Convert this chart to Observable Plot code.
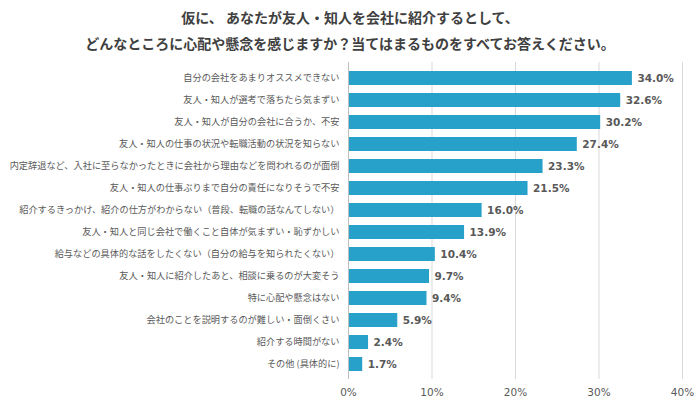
<!DOCTYPE html>
<html><head><meta charset="utf-8">
<script src="https://cdn.jsdelivr.net/npm/d3@7"></script>
<script src="https://cdn.jsdelivr.net/npm/@observablehq/plot@0.6"></script>
<style>
body{margin:0;background:#fff;}
#title{width:700px;text-align:center;font-family:"Noto Sans CJK JP",sans-serif;font-weight:bold;font-size:14px;color:#404040;line-height:26px;padding-top:4px;height:51px;}
#chart svg{font-family:"DejaVu Sans",sans-serif;}
#chart g[aria-label="y-axis tick label"] text{font-family:"Noto Sans CJK JP",sans-serif;font-size:9.2px;}
</style></head>
<body>
<div id="title">仮に、 あなたが友人・知人を会社に紹介するとして、<br>どんなところに心配や懸念を感じますか？当てはまるものをすべてお答えください。</div>
<div id="chart"></div>
<script>
const categories = [
  "自分の会社をあまりオススメできない",
  "友人・知人が選考で落ちたら気まずい",
  "友人・知人が自分の会社に合うか、不安",
  "友人・知人の仕事の状況や転職活動の状況を知らない",
  "内定辞退など、入社に至らなかったときに会社から理由などを問われるのが面倒",
  "友人・知人の仕事ぶりまで自分の責任になりそうで不安",
  "紹介するきっかけ、紹介の仕方がわからない（普段、転職の話なんてしない）",
  "友人・知人と同じ会社で働くこと自体が気まずい・恥ずかしい",
  "給与などの具体的な話をしたくない（自分の給与を知られたくない）",
  "友人・知人に紹介したあと、相談に乗るのが大変そう",
  "特に心配や懸念はない",
  "会社のことを説明するのが難しい・面倒くさい",
  "紹介する時間がない",
  "その他 (具体的に)"
];
const values = [34.0, 32.6, 30.2, 27.4, 23.3, 21.5, 16.0, 13.9, 10.4, 9.7, 9.4, 5.9, 2.4, 1.7];
const xTicks = [0, 10, 20, 30, 40];

const data = categories.map((c, i) => ({category: c, value: values[i]}));

const chart = Plot.plot({
  width: 700,
  height: 345,
  marginLeft: 348,
  marginRight: 18,
  marginTop: 7,
  marginBottom: 21,
  style: {color: "#595959", fontSize: "10.5px"},
  x: {domain: [0, 40], ticks: xTicks, tickFormat: d => d + "%", label: null},
  y: {domain: categories, paddingInner: 0.38, paddingOuter: 0.19, label: null},
  marks: [
    Plot.gridX(xTicks.slice(1), {stroke: "#d9d9d9", strokeOpacity: 1}),
    Plot.barX(data, {x: "value", y: "category", fill: "#27a1c9"}),
    Plot.ruleX([0], {stroke: "#bfbfbf"}),
    Plot.text(data, {x: "value", y: "category", text: d => d.value.toFixed(1) + "%", dx: 5, textAnchor: "start", fontWeight: "bold", fill: "#595959", fontSize: 10.5}),
    Plot.axisX({ticks: xTicks, tickFormat: d => d + "%", tickSize: 0, tickPadding: 9, label: null}),
    Plot.axisY({tickSize: 0, tickPadding: 9, label: null})
  ]
});
document.getElementById("chart").appendChild(chart);
</script>
</body></html>
